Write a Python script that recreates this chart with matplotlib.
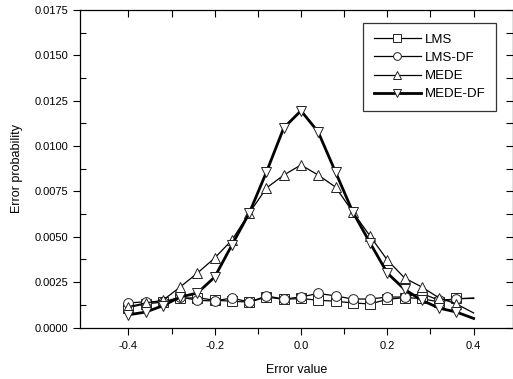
import matplotlib
matplotlib.use("Agg")
import matplotlib.pyplot as plt
import numpy as np
from matplotlib.ticker import MultipleLocator, FixedLocator, FormatStrFormatter

plt.rcParams['font.family'] = ['Liberation Sans', 'DejaVu Sans']

x = [-0.40, -0.36, -0.32, -0.28, -0.24, -0.20, -0.16, -0.12, -0.08, -0.04,
     0.00, 0.04, 0.08, 0.12, 0.16, 0.20, 0.24, 0.28, 0.32, 0.36, 0.40]

lms = [0.00110, 0.00130, 0.00140, 0.00160, 0.00165, 0.00150, 0.00145, 0.00140, 0.00168, 0.00155,
       0.00160, 0.00150, 0.00145, 0.00135, 0.00130, 0.00155, 0.00165, 0.00160, 0.00140, 0.00160, 0.00160]
lms_df = [0.00135, 0.00142, 0.00140, 0.00168, 0.00150, 0.00146, 0.00163, 0.00140, 0.00174, 0.00157,
          0.00168, 0.00188, 0.00174, 0.00157, 0.00157, 0.00168, 0.00168, 0.00188, 0.00150, 0.00157, 0.00163]
mede = [0.00115, 0.00135, 0.00150, 0.00223, 0.00300, 0.00383, 0.00482, 0.00630, 0.00769, 0.00840,
        0.00896, 0.00840, 0.00774, 0.00637, 0.00504, 0.00372, 0.00273, 0.00223, 0.00163, 0.00130, 0.00080]
mede_df = [0.00070, 0.00085, 0.00120, 0.00168, 0.00190, 0.00278, 0.00455, 0.00630, 0.00857, 0.01100,
           0.01195, 0.01077, 0.00857, 0.00637, 0.00466, 0.00300, 0.00210, 0.00150, 0.00107, 0.00085, 0.00050]

series = [
    ("LMS", lms, 's', 0.9),
    ("LMS-DF", lms_df, 'o', 0.9),
    ("MEDE", mede, '^', 0.9),
    ("MEDE-DF", mede_df, 'v', 2.0),
]

x_major = [-0.4, -0.2, 0.0, 0.2, 0.4]
x_minor = [-0.3, -0.1, 0.1, 0.3]

fig = plt.figure(figsize=(5.13, 3.79), dpi=100)
ax = fig.add_axes([80/513, 1-327.5/379, (512.5-80)/513, (327.5-10)/379])

for name, vals, mk, lw in series:
    ax.plot(x, vals, color='black', lw=lw, marker=mk, markersize=7,
            markerfacecolor='white', markeredgecolor='#222222', markeredgewidth=0.7,
            markevery=slice(0, 20), label=name)

ax.set_xlim(-0.512, 0.49)
ax.set_ylim(0, 0.0175)
ax.xaxis.set_major_locator(FixedLocator(x_major))
ax.xaxis.set_minor_locator(FixedLocator(x_minor))
ax.yaxis.set_major_locator(MultipleLocator(0.0025))
ax.yaxis.set_minor_locator(MultipleLocator(0.00125))
ax.yaxis.set_major_formatter(FormatStrFormatter('%.4f'))
ax.xaxis.set_major_formatter(FormatStrFormatter('%.1f'))

ax.tick_params(axis='x', which='both', direction='out', top=False, labelsize=8, width=0.8,
               color='black', pad=5)
ax.tick_params(axis='x', which='major', length=5)
ax.tick_params(axis='x', which='minor', length=4)
ax.tick_params(axis='y', which='major', direction='out', length=5, labelsize=8, width=0.8)
ax.tick_params(axis='y', which='minor', direction='in', length=4, width=0.8)

# top / right axis ticks pointing inward
secx = ax.secondary_xaxis('top')
secx.xaxis.set_major_locator(FixedLocator(sorted(x_major + x_minor)))
secx.tick_params(direction='in', length=5, width=0.8, labeltop=False)
secx.spines['top'].set_visible(False)
secy = ax.secondary_yaxis('right')
secy.yaxis.set_major_locator(MultipleLocator(0.00125))
secy.tick_params(direction='in', length=5, width=0.8, labelright=False)
secy.spines['right'].set_visible(False)

for s in ax.spines.values():
    s.set_linewidth(0.9)
    s.set_color('black')

ax.set_xlabel("Error value", fontsize=9, labelpad=9)
ax.set_ylabel("Error probability", fontsize=9, labelpad=8)

leg = ax.legend(loc='upper left', bbox_to_anchor=((363-80)/432.5, (327.5-23)/317.5),
                fontsize=9.5, frameon=True, fancybox=False, edgecolor='black',
                handlelength=3.6, borderpad=0.8, labelspacing=0.45, handletextpad=0.3,
                borderaxespad=0, markerscale=0.8)
leg.get_frame().set_linewidth(0.9)

fig.savefig("out.png", dpi=100)
